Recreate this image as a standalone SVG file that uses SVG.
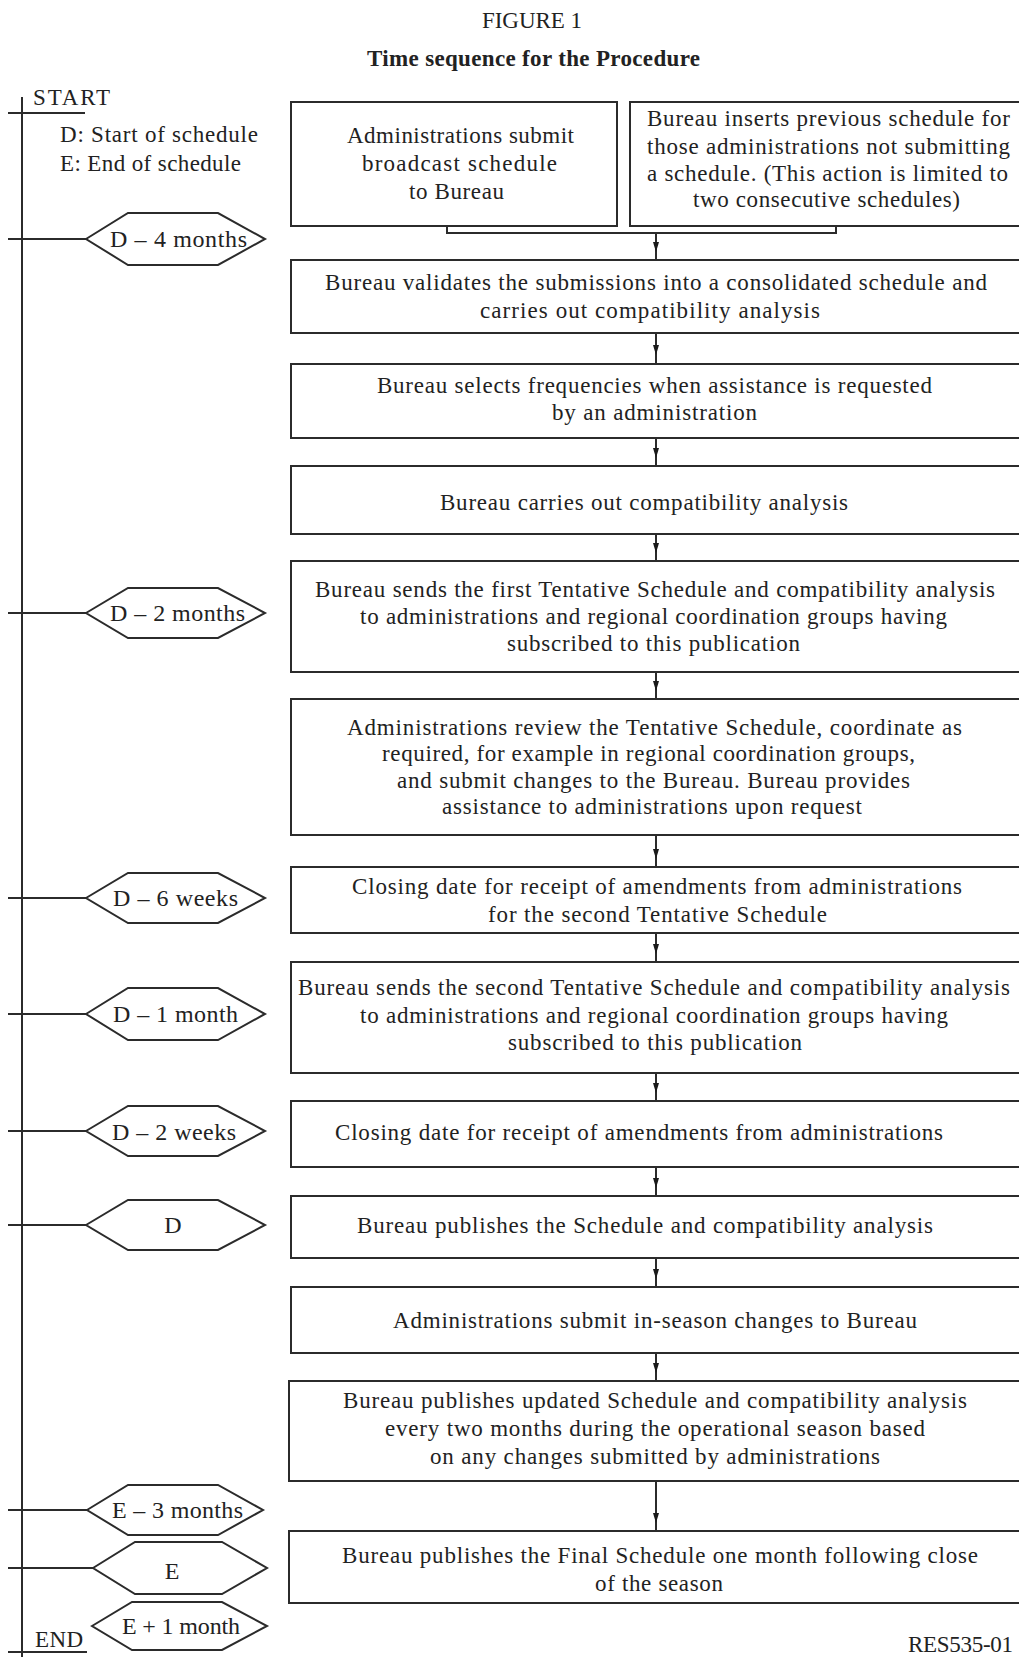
<svg xmlns="http://www.w3.org/2000/svg" width="1019" height="1657" viewBox="0 0 1019 1657">
<style>
.box{fill:#fff;stroke:#2b2b2b;stroke-width:2}
.hex{fill:#fff;stroke:#2b2b2b;stroke-width:2;stroke-linejoin:miter}
.ln{fill:none;stroke:#2b2b2b;stroke-width:2}
.t{font-family:"Liberation Serif","Times New Roman",serif;font-size:23px;fill:#222}
.h{font-family:"Liberation Serif","Times New Roman",serif;font-size:24px;fill:#222}
.c{text-anchor:middle}
</style>
<defs>
<marker id="ah" viewBox="0 0 10 6" refX="10" refY="3" markerWidth="11" markerHeight="6" markerUnits="userSpaceOnUse" orient="auto">
<path d="M0,0 L10,3 L0,6 Z" fill="#1a1a1a"/>
</marker>
</defs>
<rect width="1019" height="1657" fill="#fff"/>

<g id="title">
<text class="t" x="482" y="28" font-size="19" textLength="100">FIGURE 1</text>
<text class="t" x="367" y="66" font-size="22" font-weight="bold" textLength="333">Time sequence for the Procedure</text>
</g>

<g id="timeline">
<line class="ln" x1="22" y1="97" x2="22" y2="1657"/>
<line class="ln" x1="8" y1="113" x2="85" y2="113"/>
<text class="t" x="33" y="105" font-size="24" textLength="77">START</text>
<text class="t" x="60" y="142" font-size="22" textLength="198">D: Start of schedule</text>
<text class="t" x="60" y="171" font-size="22" textLength="181">E: End of schedule</text>
<line class="ln" x1="8" y1="1652" x2="87" y2="1652"/>
<text class="t" x="35" y="1647" font-size="22" textLength="48">END</text>
</g>

<g id="ticks">
<line class="ln" x1="8" y1="239" x2="86" y2="239"/>
<line class="ln" x1="8" y1="613" x2="86" y2="613"/>
<line class="ln" x1="8" y1="898" x2="86" y2="898"/>
<line class="ln" x1="8" y1="1014" x2="86" y2="1014"/>
<line class="ln" x1="8" y1="1131" x2="86" y2="1131" stroke-width="3"/>
<line class="ln" x1="8" y1="1225" x2="86" y2="1225"/>
<line class="ln" x1="8" y1="1510" x2="87" y2="1510"/>
<line class="ln" x1="8" y1="1568" x2="93" y2="1568"/>
</g>

<g id="hex-d4m">
<path class="hex" d="M86 239 L128 213 L218 213 L265 239 L218 265 L128 265 Z"/>
<text class="h" x="110" y="247" textLength="137">D – 4 months</text>
</g>
<g id="hex-d2m">
<path class="hex" d="M86 613 L128 588 L218 588 L265 613 L218 638 L128 638 Z"/>
<text class="h" x="110" y="621" textLength="135">D – 2 months</text>
</g>
<g id="hex-d6w">
<path class="hex" d="M86 898 L128 873 L218 873 L265 898 L218 923 L128 923 Z"/>
<text class="h" x="113" y="906" textLength="125">D – 6 weeks</text>
</g>
<g id="hex-d1m">
<path class="hex" d="M86 1014 L128 988 L218 988 L265 1014 L218 1040 L128 1040 Z"/>
<text class="h" x="113" y="1022" textLength="125">D – 1 month</text>
</g>
<g id="hex-d2w">
<path class="hex" d="M86 1131 L128 1106 L218 1106 L265 1131 L218 1156 L128 1156 Z"/>
<text class="h" x="112" y="1140" textLength="124">D – 2 weeks</text>
</g>
<g id="hex-d">
<path class="hex" d="M86 1225 L128 1200 L218 1200 L265 1225 L218 1250 L128 1250 Z"/>
<text class="h c" x="173" y="1233">D</text>
</g>
<g id="hex-e3m">
<path class="hex" d="M87 1510 L128 1485 L218 1485 L263 1510 L218 1535 L128 1535 Z"/>
<text class="h" x="112" y="1518" textLength="131">E – 3 months</text>
</g>
<g id="hex-e">
<path class="hex" d="M93 1568 L135 1542 L222 1542 L267 1568 L222 1594 L135 1594 Z"/>
<text class="h c" x="172" y="1579">E</text>
</g>
<g id="hex-e1m">
<path class="hex" d="M92 1626 L132 1602 L222 1602 L267 1626 L222 1650 L132 1650 Z"/>
<text class="h" x="122" y="1634" textLength="118">E + 1 month</text>
</g>

<g id="box1">
<rect class="box" x="291" y="102" width="326" height="124"/>
<text class="t" x="347" y="143" textLength="227">Administrations submit</text>
<text class="t" x="362" y="171" textLength="195">broadcast schedule</text>
<text class="t" x="409" y="199" textLength="95">to Bureau</text>
</g>
<g id="box2">
<rect class="box" x="630" y="102" width="400" height="124"/>
<text class="t" x="647" y="126" textLength="363">Bureau inserts previous schedule for</text>
<text class="t" x="647" y="154" textLength="363">those administrations not submitting</text>
<text class="t" x="647" y="181" textLength="361">a schedule. (This action is limited to</text>
<text class="t" x="693" y="207" textLength="267">two consecutive schedules)</text>
</g>
<g id="box3">
<rect class="box" x="291" y="260" width="740" height="73"/>
<text class="t" x="325" y="290" textLength="662">Bureau validates the submissions into a consolidated schedule and</text>
<text class="t" x="480" y="318" textLength="340">carries out compatibility analysis</text>
</g>
<g id="box4">
<rect class="box" x="291" y="364" width="740" height="74"/>
<text class="t" x="377" y="393" textLength="555">Bureau selects frequencies when assistance is requested</text>
<text class="t" x="552" y="420" textLength="205">by an administration</text>
</g>
<g id="box5">
<rect class="box" x="291" y="466" width="740" height="68"/>
<text class="t" x="440" y="510" textLength="408">Bureau carries out compatibility analysis</text>
</g>
<g id="box6">
<rect class="box" x="291" y="561" width="740" height="111"/>
<text class="t" x="315" y="597" textLength="680">Bureau sends the first Tentative Schedule and compatibility analysis</text>
<text class="t" x="360" y="624" textLength="587">to administrations and regional coordination groups having</text>
<text class="t" x="507" y="651" textLength="293">subscribed to this publication</text>
</g>
<g id="box7">
<rect class="box" x="291" y="699" width="740" height="136"/>
<text class="t" x="347" y="735" textLength="615">Administrations review the Tentative Schedule, coordinate as</text>
<text class="t" x="382" y="761" textLength="533">required, for example in regional coordination groups,</text>
<text class="t" x="397" y="788" textLength="513">and submit changes to the Bureau. Bureau provides</text>
<text class="t" x="442" y="814" textLength="420">assistance to administrations upon request</text>
</g>
<g id="box8">
<rect class="box" x="291" y="867" width="740" height="66"/>
<text class="t" x="352" y="894" textLength="610">Closing date for receipt of amendments from administrations</text>
<text class="t" x="488" y="922" textLength="339">for the second Tentative Schedule</text>
</g>
<g id="box9">
<rect class="box" x="291" y="962" width="740" height="111"/>
<text class="t" x="298" y="995" textLength="712">Bureau sends the second Tentative Schedule and compatibility analysis</text>
<text class="t" x="360" y="1023" textLength="588">to administrations and regional coordination groups having</text>
<text class="t" x="508" y="1050" textLength="294">subscribed to this publication</text>
</g>
<g id="box10">
<rect class="box" x="291" y="1101" width="740" height="66"/>
<text class="t" x="335" y="1140" textLength="608">Closing date for receipt of amendments from administrations</text>
</g>
<g id="box11">
<rect class="box" x="291" y="1196" width="740" height="62"/>
<text class="t" x="357" y="1233" textLength="576">Bureau publishes the Schedule and compatibility analysis</text>
</g>
<g id="box12">
<rect class="box" x="291" y="1287" width="740" height="66"/>
<text class="t" x="393" y="1328" textLength="524">Administrations submit in-season changes to Bureau</text>
</g>
<g id="box13">
<rect class="box" x="289" y="1381" width="742" height="100"/>
<text class="t" x="343" y="1408" textLength="624">Bureau publishes updated Schedule and compatibility analysis</text>
<text class="t" x="385" y="1436" textLength="540">every two months during the operational season based</text>
<text class="t" x="430" y="1464" textLength="450">on any changes submitted by administrations</text>
</g>
<g id="box14">
<rect class="box" x="289" y="1531" width="742" height="72"/>
<text class="t" x="342" y="1563" textLength="636">Bureau publishes the Final Schedule one month following close</text>
<text class="t" x="595" y="1591" textLength="128">of the season</text>
</g>

<g id="connectors">
<path class="ln" d="M447 226 V233 H836 V226"/>
<path class="ln" d="M656 233 V252 V260" marker-mid="url(#ah)"/>
<path class="ln" d="M656 333 V355 V364" marker-mid="url(#ah)"/>
<path class="ln" d="M656 438 V458 V466" marker-mid="url(#ah)"/>
<path class="ln" d="M656 534 V553 V561" marker-mid="url(#ah)"/>
<path class="ln" d="M656 672 V691 V699" marker-mid="url(#ah)"/>
<path class="ln" d="M656 835 V859 V867" marker-mid="url(#ah)"/>
<path class="ln" d="M656 933 V954 V962" marker-mid="url(#ah)"/>
<path class="ln" d="M656 1073 V1093 V1101" marker-mid="url(#ah)"/>
<path class="ln" d="M656 1167 V1188 V1196" marker-mid="url(#ah)"/>
<path class="ln" d="M656 1258 V1279 V1287" marker-mid="url(#ah)"/>
<path class="ln" d="M656 1353 V1373 V1381" marker-mid="url(#ah)"/>
<path class="ln" d="M656 1481 V1523 V1531" marker-mid="url(#ah)"/>
</g>

<g id="footer">
<text class="t" x="908" y="1652" font-size="22" textLength="105">RES535-01</text>
</g>
</svg>
